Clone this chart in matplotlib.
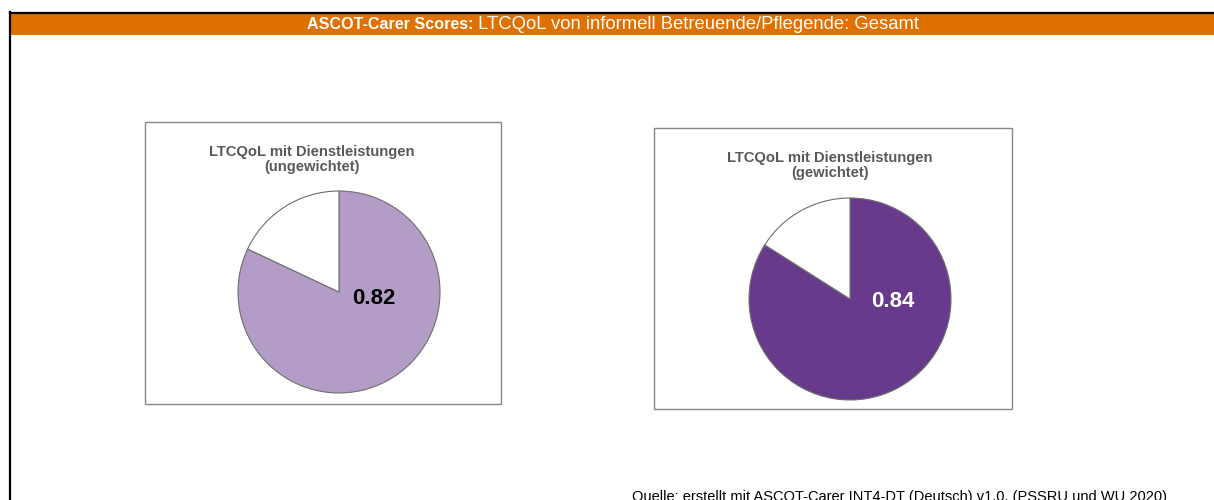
import matplotlib.pyplot as plt
from matplotlib.patches import Rectangle
from matplotlib.lines import Line2D

plt.rcParams['font.family'] = ['Liberation Sans', 'DejaVu Sans']

# data
header_bold = "ASCOT-Carer Scores:"
header_rest = " LTCQoL von informell Betreuende/Pflegende: Gesamt"
panel_titles = ["LTCQoL mit Dienstleistungen\n(ungewichtet)",
                "LTCQoL mit Dienstleistungen\n(gewichtet)"]
scores = [0.82, 0.84]
label_colors = ["black", "white"]
pie_colors = ["#b39cc6", "#673a8c"]
source = "Quelle: erstellt mit ASCOT-Carer INT4-DT (Deutsch) v1.0. (PSSRU und WU 2020)"

W, H = 1214, 500
fig = plt.figure(figsize=(W / 100, H / 100), dpi=100)


def fx(x):
    return x / W


def fy(y):
    return 1 - y / H


# orange header band + black top/left border
fig.patches.append(Rectangle((fx(11), fy(34.5)), 1, fy(13) - fy(34.5),
                             transform=fig.transFigure, facecolor="#e07000", edgecolor="none"))
fig.lines.append(Line2D([fx(10), 1], [fy(12.5), fy(12.5)], transform=fig.transFigure,
                        color="black", lw=1.6))
fig.lines.append(Line2D([fx(10), fx(10)], [fy(12), 0], transform=fig.transFigure,
                        color="black", lw=1.6))

t1 = fig.text(0, fy(24.5), header_bold, color="white", fontsize=11.6, fontweight="bold",
              ha="left", va="center")
t2 = fig.text(0, fy(24.5), header_rest, color="white", fontsize=13.3, ha="left", va="center")
fig.canvas.draw()
w1 = t1.get_window_extent().width
w2 = t2.get_window_extent().width
start = 613 - (w1 + w2) / 2
t1.set_x(fx(start))
t2.set_x(fx(start + w1))

# panels: box (x0, y0, x1, y1) and pie center / radius in pixels
boxes = [(145, 122, 501, 404), (654, 128, 1012, 409)]
title_x = [312, 830]
centers = [(339, 292), (850, 299)]
radius = 102
label_offsets = [(0.34, -0.05), (0.42, -0.01)]

for i in range(2):
    x0, y0, x1, y1 = boxes[i]
    fig.patches.append(Rectangle((fx(x0), fy(y1)), fx(x1 - x0), fy(y0) - fy(y1),
                                 transform=fig.transFigure, fill=False,
                                 edgecolor="#888888", lw=1))
    fig.text(fx(title_x[i]), fy(y0 + 37.5), panel_titles[i], color="#595959",
             fontsize=10.6, fontweight="bold", ha="center", va="center", linespacing=1.1)

    cx, cy = centers[i]
    ax = fig.add_axes([fx(cx - radius), fy(cy + radius), fx(2 * radius), fy(cy - radius) - fy(cy + radius)])
    ax.pie([scores[i], 1 - scores[i]], colors=[pie_colors[i], "white"], startangle=90,
           counterclock=False, radius=1,
           wedgeprops=dict(edgecolor="#6e6e6e", linewidth=0.8))
    ax.set_xlim(-1.01, 1.01)
    ax.set_ylim(-1.01, 1.01)
    ax.set_aspect("equal")
    ax.axis("off")
    dx, dy = label_offsets[i]
    ax.text(dx, dy - 0.01, f"{scores[i]:.2f}", color=label_colors[i], fontsize=16,
            fontweight="bold", ha="center", va="center")

fig.text(fx(632), fy(497), source, color="black", fontsize=10.5, ha="left", va="center")

fig.savefig("out.png", dpi=100)
